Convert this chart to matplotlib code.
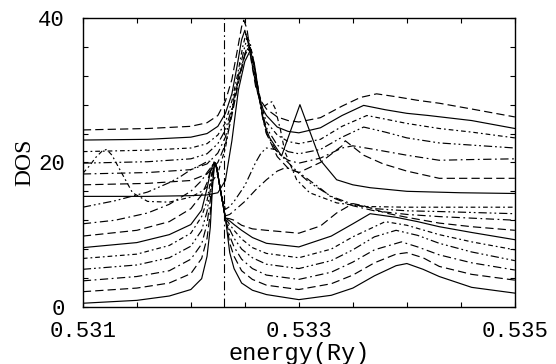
import matplotlib
matplotlib.use("Agg")
import matplotlib.pyplot as plt

mpl = matplotlib
mpl.rcParams['xtick.direction'] = 'in'
mpl.rcParams['ytick.direction'] = 'in'
mpl.rcParams['xtick.major.size'] = 3.6
mpl.rcParams['ytick.major.size'] = 3.6
mpl.rcParams['axes.linewidth'] = 1.0

#======#
# data #
#======#
# lower family (narrow peak near 0.53222)
e0 = [0.5310, 0.5315, 0.5318, 0.5320, 0.5321, 0.53215, 0.53218, 0.53220, 0.53222, 0.53224, 0.53227, 0.53232, 0.53236, 0.5324, 0.53247, 0.53257, 0.5327, 0.5330, 0.5333, 0.5335, 0.5337, 0.5339, 0.5340, 0.53415, 0.5343, 0.5346, 0.5350]
d0 = [0.5, 0.9, 1.5, 2.4, 3.9, 7.0, 11.0, 16.5, 20.0, 19.3, 16.5, 12.3, 7.5, 5.3, 3.3, 2.3, 1.7, 1.0, 1.6, 2.6, 4.3, 5.7, 6.0, 5.2, 4.2, 2.7, 1.9]

e1 = [0.5310, 0.5315, 0.5318, 0.5320, 0.5321, 0.53215, 0.53218, 0.53220, 0.53222, 0.53224, 0.53227, 0.53232, 0.53236, 0.5324, 0.53247, 0.53257, 0.5327, 0.5330, 0.5333, 0.5335, 0.5337, 0.5339, 0.5340, 0.53415, 0.5343, 0.5346, 0.5350]
d1 = [2.1, 2.6, 3.3, 4.6, 6.7, 9.5, 13.0, 17.2, 20.0, 19.3, 16.5, 12.3, 8.8, 7.0, 5.0, 3.8, 3.0, 2.4, 3.2, 4.4, 6.1, 7.3, 7.5, 6.8, 5.6, 4.5, 3.7]

e2 = [0.5310, 0.5315, 0.5318, 0.5320, 0.5321, 0.53215, 0.53218, 0.53220, 0.53222, 0.53224, 0.53227, 0.53232, 0.53236, 0.5324, 0.53247, 0.53257, 0.5327, 0.5330, 0.5333, 0.5335, 0.5337, 0.53395, 0.5341, 0.5343, 0.5346, 0.5350]
d2 = [3.6, 4.2, 5.0, 6.6, 8.7, 11.5, 14.8, 18.0, 20.0, 19.3, 16.5, 12.3, 9.8, 8.3, 6.6, 5.3, 4.4, 3.8, 4.8, 6.2, 7.9, 9.0, 8.3, 7.2, 6.1, 5.1]

e3 = [0.5310, 0.5315, 0.5318, 0.5320, 0.5321, 0.53215, 0.53218, 0.53220, 0.53222, 0.53224, 0.53227, 0.53232, 0.53236, 0.5324, 0.53247, 0.53257, 0.5327, 0.5330, 0.5333, 0.5335, 0.5337, 0.5339, 0.5341, 0.5343, 0.5346, 0.5350]
d3 = [5.2, 5.8, 6.8, 8.4, 10.6, 13.2, 16.2, 18.6, 20.0, 19.3, 16.5, 12.3, 10.7, 9.5, 8.0, 6.8, 5.9, 5.3, 6.4, 7.9, 9.7, 10.6, 9.9, 8.8, 7.6, 6.4]

e4 = [0.5310, 0.5315, 0.5318, 0.5320, 0.5321, 0.53215, 0.53218, 0.53220, 0.53222, 0.53224, 0.53227, 0.53232, 0.53236, 0.5324, 0.53247, 0.53257, 0.5327, 0.5330, 0.5333, 0.5335, 0.5338, 0.5340, 0.5343, 0.5346, 0.5350]
d4 = [6.7, 7.3, 8.5, 10.2, 12.5, 14.7, 17.3, 19.0, 20.0, 19.3, 16.5, 12.3, 11.4, 10.6, 9.4, 8.2, 7.4, 6.8, 8.0, 9.7, 11.8, 11.3, 10.0, 9.0, 7.9]

e5 = [0.5310, 0.5315, 0.5318, 0.5320, 0.5321, 0.53215, 0.53218, 0.53220, 0.53222, 0.53224, 0.53227, 0.53232, 0.53236, 0.5324, 0.53247, 0.53257, 0.5327, 0.5330, 0.5333, 0.5335, 0.53366, 0.5339, 0.5341, 0.5343, 0.5346, 0.5350]
d5 = [8.2, 8.9, 10.0, 11.4, 13.4, 16.4, 18.6, 19.5, 20.0, 19.3, 16.5, 12.3, 11.9, 11.4, 10.6, 9.6, 8.8, 8.3, 9.8, 11.5, 12.9, 12.4, 11.8, 11.1, 10.3, 9.3]

# middle curves
e6 = [0.5310, 0.5315, 0.5318, 0.5320, 0.5321, 0.53215, 0.53218, 0.53220, 0.53222, 0.53224, 0.53227, 0.53232, 0.53236, 0.5324, 0.53247, 0.53257, 0.5327, 0.5330, 0.5332, 0.53335, 0.5335, 0.5336, 0.5338, 0.5340, 0.5343, 0.5346, 0.5350]
d6 = [9.8, 10.6, 11.8, 13.6, 15.5, 17.2, 18.8, 19.6, 20.0, 19.3, 16.5, 12.3, 12.2, 12.0, 11.3, 10.8, 10.6, 10.2, 11.2, 13.0, 14.3, 14.0, 13.0, 12.4, 11.6, 11.1, 10.6]

e7 = [0.5310, 0.5313, 0.5316, 0.5318, 0.5320, 0.5321, 0.53215, 0.53220, 0.53222, 0.53224, 0.53227, 0.53232, 0.53236, 0.5324, 0.5325, 0.5326, 0.5327, 0.5328, 0.53288, 0.5330, 0.5331, 0.5332, 0.5333, 0.5335, 0.5337, 0.5340, 0.5343, 0.5350]
d7 = [11.5, 12.0, 13.0, 14.2, 16.0, 17.5, 18.6, 19.6, 20.0, 19.3, 16.5, 12.6, 12.8, 13.3, 14.6, 16.2, 17.6, 18.8, 19.3, 18.6, 17.5, 16.4, 15.2, 14.0, 13.3, 12.8, 12.5, 12.0]

e8 = [0.5310, 0.5313, 0.5316, 0.5318, 0.5319, 0.5320, 0.5321, 0.53216, 0.53222, 0.53224, 0.53227, 0.53232, 0.53236, 0.5324, 0.5325, 0.5326, 0.53265, 0.5327, 0.53278, 0.5329, 0.5330, 0.5331, 0.5333, 0.5335, 0.5337, 0.5340, 0.5343, 0.5350]
d8 = [13.8, 14.7, 15.9, 17.2, 18.0, 19.0, 19.7, 20.2, 20.0, 19.0, 16.5, 13.5, 13.9, 14.6, 16.8, 20.0, 21.3, 22.0, 21.8, 20.0, 18.5, 17.2, 15.3, 14.2, 13.6, 13.3, 13.2, 12.9]

e9 = [0.5310, 0.53106, 0.53112, 0.53118, 0.53122, 0.53127, 0.53135, 0.53146, 0.5316, 0.5318, 0.5320, 0.5321, 0.53218, 0.53225, 0.53232, 0.53238, 0.53244, 0.5325, 0.53253, 0.53257, 0.5326, 0.53265, 0.53268, 0.53272, 0.53275, 0.53278, 0.53283, 0.53287, 0.53298, 0.5331, 0.53335, 0.5336, 0.5340, 0.5350]
d9 = [18.5, 19.5, 20.7, 21.6, 21.8, 21.0, 18.8, 15.8, 14.6, 14.5, 15.2, 16.0, 17.0, 18.5, 22.0, 27.0, 31.5, 35.0, 35.8, 34.0, 31.5, 28.5, 27.8, 28.2, 28.4, 27.5, 24.5, 21.5, 17.6, 15.8, 14.4, 13.9, 13.8, 13.8]

# upper family (narrow peak near 0.5325)
e10 = [0.5310, 0.5316, 0.5320, 0.53215, 0.53225, 0.53232, 0.53238, 0.53244, 0.5325, 0.53255, 0.53259, 0.53263, 0.53267, 0.5327, 0.53273, 0.53284, 0.53301, 0.5332, 0.53335, 0.5335, 0.53366, 0.5340, 0.5345, 0.5350]
d10 = [15.3, 15.3, 15.4, 15.5, 15.8, 17.5, 23.0, 30.0, 34.0, 35.5, 33.5, 29.5, 26.0, 24.5, 23.4, 20.9, 28.0, 20.3, 17.6, 16.9, 16.5, 16.0, 15.8, 15.7]

e11 = [0.5310, 0.5316, 0.5320, 0.53215, 0.53225, 0.53232, 0.53238, 0.53244, 0.5325, 0.53254, 0.53258, 0.53262, 0.53267, 0.5327, 0.5328, 0.5329, 0.5330, 0.5332, 0.5334, 0.53343, 0.5336, 0.53378, 0.5340, 0.5343, 0.5350]
d11 = [16.9, 17.1, 17.5, 18.4, 20.0, 22.5, 26.5, 31.0, 34.8, 36.0, 34.2, 30.5, 26.0, 24.0, 20.8, 19.2, 18.6, 20.0, 22.3, 23.0, 21.0, 19.8, 18.8, 17.8, 17.8]

e12 = [0.5310, 0.5316, 0.5320, 0.53215, 0.53225, 0.53232, 0.53238, 0.53244, 0.5325, 0.53253, 0.53257, 0.53261, 0.53266, 0.5327, 0.5328, 0.5329, 0.5330, 0.5332, 0.5334, 0.5335, 0.5337, 0.5340, 0.5343, 0.5346, 0.5350]
d12 = [18.4, 18.6, 19.0, 19.8, 21.3, 23.5, 27.0, 31.5, 35.0, 36.5, 35.0, 31.0, 26.5, 24.0, 21.4, 20.3, 19.9, 20.6, 22.0, 22.3, 21.8, 21.0, 20.3, 20.4, 20.5]

e13 = [0.5310, 0.5316, 0.5320, 0.53215, 0.53225, 0.53232, 0.53238, 0.53244, 0.53249, 0.53252, 0.53256, 0.5326, 0.53265, 0.5327, 0.5328, 0.5329, 0.5330, 0.5332, 0.5334, 0.5336, 0.5338, 0.5340, 0.5343, 0.5346, 0.5350]
d13 = [19.9, 20.1, 20.5, 21.2, 22.6, 24.5, 27.5, 32.0, 35.5, 37.2, 35.5, 31.5, 27.5, 24.8, 22.4, 21.5, 21.2, 21.8, 23.5, 24.9, 24.2, 23.4, 22.7, 22.4, 22.0]

e14 = [0.5310, 0.5316, 0.5320, 0.53215, 0.53225, 0.53232, 0.53238, 0.53243, 0.53248, 0.53251, 0.53255, 0.53259, 0.53263, 0.53268, 0.5327, 0.5328, 0.5329, 0.5330, 0.5332, 0.5334, 0.53363, 0.5338, 0.5340, 0.5343, 0.5346, 0.5350]
d14 = [21.5, 21.7, 22.0, 22.6, 23.8, 25.5, 28.5, 32.0, 36.0, 37.8, 36.5, 33.0, 29.5, 26.5, 25.6, 23.8, 22.9, 22.6, 23.2, 25.0, 26.5, 26.0, 25.4, 24.7, 24.2, 23.4]

e15 = [0.5310, 0.5316, 0.5320, 0.53215, 0.53225, 0.53232, 0.53238, 0.53243, 0.53247, 0.5325, 0.53254, 0.53258, 0.53262, 0.53267, 0.5327, 0.5328, 0.5329, 0.5330, 0.5332, 0.5334, 0.5336, 0.5338, 0.5340, 0.5342, 0.5346, 0.5350]
d15 = [23.1, 23.2, 23.5, 24.0, 25.0, 26.8, 29.5, 33.5, 37.0, 38.3, 36.0, 32.5, 29.5, 27.3, 26.5, 24.9, 24.3, 24.1, 24.8, 26.5, 27.9, 27.3, 26.8, 26.5, 25.8, 24.7]

e16 = [0.5310, 0.5316, 0.5320, 0.53215, 0.53225, 0.53232, 0.53238, 0.53243, 0.53247, 0.53249, 0.53252, 0.53256, 0.5326, 0.53265, 0.5327, 0.5328, 0.5329, 0.5330, 0.5332, 0.5334, 0.53357, 0.53372, 0.5339, 0.5341, 0.5343, 0.5346, 0.5350]
d16 = [24.5, 24.7, 25.0, 25.5, 26.5, 28.5, 31.5, 35.5, 38.8, 39.7, 38.5, 34.0, 30.5, 28.5, 27.4, 26.3, 25.8, 25.6, 26.2, 27.8, 29.0, 29.5, 29.1, 28.6, 28.2, 27.4, 26.3]

e_fermi = 0.53231

x_ticks = [0.531, 0.5315, 0.532, 0.5325, 0.533, 0.5335, 0.534, 0.5345, 0.535]
x_labels = ['0.531', '', '', '', '0.533', '', '', '', '0.535']
y_ticks = [0, 4, 8, 12, 16, 20, 24, 28, 32, 36, 40]
y_labels = ['0', '', '', '', '', '20', '', '', '', '', '40']

energies = [e0, e1, e2, e3, e4, e5, e6, e7, e8, e9, e10, e11, e12, e13, e14, e15, e16]
dos = [d0, d1, d2, d3, d4, d5, d6, d7, d8, d9, d10, d11, d12, d13, d14, d15, d16]

# line styles cycle like the old plotting package
styles = ['-',
          (0, (7, 3.5)),
          (0, (7, 3, 1.5, 3)),
          (0, (7, 2.5, 1.5, 2.5, 1.5, 2.5)),
          (0, (4, 2.5, 1.5, 2.5))]

#======#
# plot #
#======#
fig = plt.figure(figsize=(5.56, 3.64), dpi=100)
ax = fig.add_axes([0.149, 0.157, 0.777, 0.7935])

for i in range(len(dos)):
    ax.plot(energies[i], dos[i], color='black', lw=0.85, linestyle=styles[i % 5])

ax.axvline(e_fermi, color='black', lw=0.8, linestyle=(0, (8, 3, 1.5, 3)))

ax.set_xlim(0.531, 0.535)
ax.set_ylim(0, 40)
ax.set_xticks(x_ticks)
ax.set_xticklabels(x_labels, family='Liberation Mono', fontsize=16)
ax.set_yticks(y_ticks)
ax.set_yticklabels(y_labels, family='Liberation Mono', fontsize=16)
ax.tick_params(axis='x', which='both', direction='in', top=True, pad=10)
ax.tick_params(axis='y', which='both', direction='in', right=True, pad=13)

ax.set_xlabel('energy(Ry)', family='Liberation Mono', fontsize=17)
ax.xaxis.set_label_coords(0.5, -0.12)
ax.set_ylabel('DOS', family='Liberation Serif', fontsize=17, labelpad=2)

fig.savefig('out.png', dpi=100)
